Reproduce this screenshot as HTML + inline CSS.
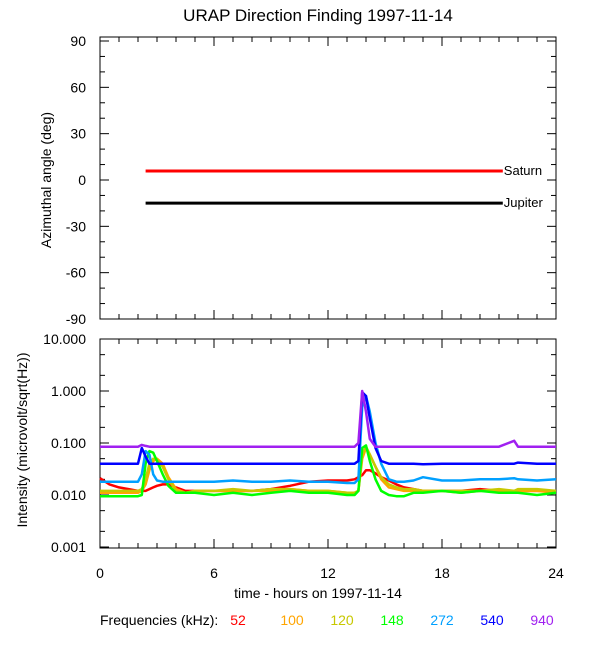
<!DOCTYPE html>
<html><head><meta charset="utf-8"><style>
html,body{margin:0;padding:0;background:#fff}
svg{display:block;font-family:"Liberation Sans",sans-serif}
</style></head><body>
<svg id="c" width="600" height="650" xmlns="http://www.w3.org/2000/svg">
<text x="318" y="21" font-size="17" text-anchor="middle">URAP Direction Finding  1997-11-14</text>
<g id="topPanel"></g>
<g id="botPanel"></g>
<text transform="translate(51,180) rotate(-90)" font-size="14" text-anchor="middle">Azimuthal angle (deg)</text>
<text transform="translate(27,440) rotate(-90)" font-size="14" text-anchor="middle">Intensity (microvolt/sqrt(Hz))</text>
<text x="318" y="598" font-size="14" text-anchor="middle">time - hours on 1997-11-14</text>
<g id="legend"><text x="100" y="625" font-size="14">Frequencies (kHz):</text></g>
</svg>
<script>
const NS="http://www.w3.org/2000/svg";
const xTicks=[0,6,12,18,24];
const azTicks=[90,60,30,0,-30,-60,-90];
const intTicks=[10,1,0.1,0.01,0.001];
const intTickLabels=["10.000","1.000","0.100","0.010","0.001"];
const planets=["Saturn","Jupiter"];
const planetAngles=[5.8,-15];
const planetColors=["#ff0000","#000000"];
const planetStart=2.4, planetEnd=21.2;
const freqs=["52","100","120","148","272","540","940"];
const freqColors=["#ff0000","#ffa500","#c8c800","#00ff00","#00a0ff","#0000ff","#a020f0"];
const times=[0,0.5,1,1.5,2,2.2,2.4,2.6,2.8,3,3.3,3.6,4,4.5,5,6,7,8,9,10,11,12,13,13.4,13.6,13.8,14,14.2,14.5,14.8,15.2,15.6,16,16.5,17,18,19,20,21,21.8,22,23,24];
const s52 =[0.021,0.016,0.014,0.013,0.012,0.012,0.012,0.013,0.014,0.015,0.016,0.016,0.014,0.012,0.012,0.012,0.012,0.012,0.013,0.015,0.018,0.019,0.019,0.020,0.022,0.024,0.030,0.030,0.026,0.022,0.019,0.016,0.014,0.013,0.012,0.012,0.012,0.013,0.012,0.012,0.012,0.012,0.012];
const s100=[0.011,0.011,0.011,0.011,0.011,0.012,0.016,0.030,0.045,0.050,0.040,0.022,0.013,0.011,0.012,0.012,0.012,0.012,0.012,0.013,0.012,0.012,0.011,0.011,0.012,0.050,0.080,0.060,0.035,0.020,0.014,0.013,0.012,0.012,0.012,0.012,0.011,0.012,0.012,0.012,0.012,0.012,0.011];
const s120=[0.012,0.012,0.012,0.012,0.012,0.013,0.020,0.040,0.050,0.048,0.035,0.020,0.012,0.011,0.012,0.012,0.013,0.012,0.013,0.013,0.012,0.012,0.011,0.011,0.012,0.060,0.085,0.060,0.035,0.022,0.016,0.014,0.013,0.013,0.012,0.012,0.012,0.012,0.013,0.012,0.013,0.013,0.012];
const s148=[0.0095,0.0095,0.0095,0.0095,0.0095,0.010,0.040,0.070,0.065,0.045,0.025,0.015,0.011,0.011,0.011,0.010,0.011,0.010,0.011,0.012,0.011,0.011,0.010,0.010,0.012,0.080,0.090,0.045,0.020,0.012,0.010,0.0095,0.0095,0.011,0.011,0.012,0.011,0.012,0.011,0.011,0.011,0.010,0.011];
const s272=[0.018,0.018,0.018,0.018,0.018,0.025,0.070,0.060,0.025,0.019,0.018,0.018,0.018,0.018,0.018,0.018,0.019,0.018,0.018,0.019,0.018,0.018,0.017,0.017,0.020,0.500,0.800,0.400,0.100,0.040,0.020,0.018,0.018,0.019,0.022,0.019,0.019,0.020,0.020,0.021,0.020,0.019,0.020];
const s540=[0.040,0.040,0.040,0.040,0.040,0.080,0.055,0.040,0.040,0.040,0.040,0.040,0.040,0.040,0.040,0.040,0.040,0.040,0.040,0.040,0.040,0.040,0.040,0.040,0.045,0.950,0.800,0.300,0.080,0.045,0.040,0.040,0.040,0.040,0.039,0.040,0.040,0.040,0.040,0.040,0.042,0.040,0.040];
const s940=[0.085,0.085,0.085,0.085,0.085,0.092,0.088,0.085,0.085,0.085,0.085,0.085,0.085,0.085,0.085,0.085,0.085,0.085,0.085,0.085,0.085,0.085,0.085,0.085,0.100,1.000,0.400,0.120,0.085,0.085,0.085,0.085,0.085,0.085,0.085,0.085,0.085,0.085,0.085,0.110,0.085,0.085,0.085];
const series=[s52,s100,s120,s148,s272,s540,s940];
const legendX=[238,292,342,392,442,492,542];

const X0=100,X1=556;
const xs=t=>X0+(t-0)/(24-0)*(X1-X0);
const TOP0=37,TOP1=319;
const ya=d=>180-d*(139/90);
const BOT0=339,BOT1=548;
const yi=v=>547-(Math.log10(v)+3)*52;

function el(tag,attrs,parent,txt){const e=document.createElementNS(NS,tag);for(const k in attrs)e.setAttribute(k,attrs[k]);if(txt!==undefined)e.textContent=txt;parent.appendChild(e);return e;}
const topG=document.getElementById('topPanel'),botG=document.getElementById('botPanel'),leg=document.getElementById('legend');

function frame(g,y0,y1){
  const r=el('rect',{x:X0,y:y0,width:X1-X0,height:y1-y0,fill:'none',stroke:'#000','stroke-width':1},g);
  
  
  for(let h=0;h<=24;h++){
    const len=h%6===0?9:5;
    el('line',{x1:xs(h),x2:xs(h),y1:y1,y2:y1-len,stroke:'#000'},g);
    el('line',{x1:xs(h),x2:xs(h),y1:y0,y2:y0+len,stroke:'#000'},g);
  }
}
frame(topG,TOP0,TOP1);
frame(botG,BOT0,BOT1);
for(let d=-90;d<=90;d+=10){
  const len=d%30===0?9:5;
  el('line',{x1:X0,x2:X0+len,y1:ya(d),y2:ya(d),stroke:'#000'},topG);
  el('line',{x1:X1,x2:X1-len,y1:ya(d),y2:ya(d),stroke:'#000'},topG);
}
azTicks.forEach(d=>{
  const t=el('text',{x:86,y:ya(d)+5,'font-size':14,'text-anchor':'end'},topG,String(d));
  
  
});
for(let e=-3;e<1;e++){[1,2,5].forEach(m=>{
  const v=m*Math.pow(10,e),len=m===1?9:5;
  el('line',{x1:X0,x2:X0+len,y1:yi(v),y2:yi(v),stroke:'#000'},botG);
  el('line',{x1:X1,x2:X1-len,y1:yi(v),y2:yi(v),stroke:'#000'},botG);
});}
intTicks.forEach((v,i)=>{
  const t=el('text',{x:86,y:yi(v)+5,'font-size':14,'text-anchor':'end'},botG,intTickLabels[i]);
  
  
});
xTicks.forEach(h=>{
  const t=el('text',{x:xs(h),y:578,'font-size':14,'text-anchor':'middle'},botG,String(h));
  
  
});
planets.forEach((p,i)=>{
  const l=el('line',{x1:xs(planetStart),x2:xs(planetEnd),y1:ya(planetAngles[i]),y2:ya(planetAngles[i]),stroke:planetColors[i],'stroke-width':3},topG);
  
  
  const t=el('text',{x:xs(planetEnd)+1,y:ya(planetAngles[i])+4,'font-size':13},topG,p);
  
  
});
series.forEach((s,i)=>{
  const pts=s.map((v,j)=>xs(times[j]).toFixed(1)+','+yi(v).toFixed(1)).join(' ');
  const pl=el('polyline',{points:pts,fill:'none',stroke:freqColors[i],'stroke-width':2.5,'stroke-linejoin':'round'},botG);
  
  
  const t=el('text',{x:legendX[i],y:625,'font-size':14,'text-anchor':'middle',fill:freqColors[i]},leg,freqs[i]);
  
  
});
</script>
</body></html>
